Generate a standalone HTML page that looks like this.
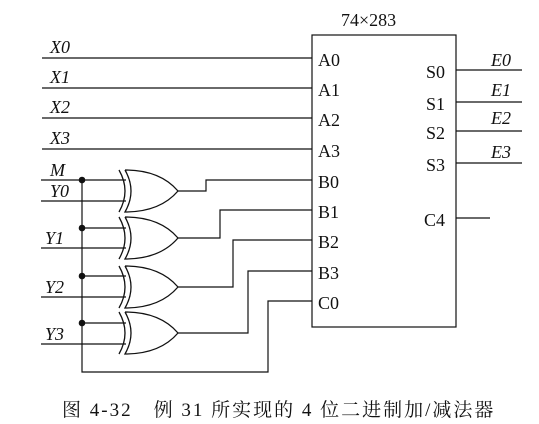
<!DOCTYPE html>
<html><head><meta charset="utf-8"><style>
body{margin:0;background:#fff;width:539px;height:424px;overflow:hidden}
svg{display:block}
text{font-family:"Liberation Serif","Noto Serif CJK SC",serif;fill:#111}
.i{font-style:italic}
</style></head><body>
<svg width="539" height="424" viewBox="0 0 539 424" xmlns="http://www.w3.org/2000/svg">
<defs>
<g id="xor" fill="none" stroke="#111" stroke-width="1.3">
<path d="M125,0 Q160,0 178,21 Q160,42 125,42 Q137,21 125,0"/>
<path d="M119,0 Q131,21 119,42"/>
</g>
</defs>
<g stroke="#111" stroke-width="1.2" fill="none">
<rect x="312" y="35" width="144" height="292"/>
<line x1="42" y1="58" x2="312" y2="58"/>
<line x1="42" y1="88" x2="312" y2="88"/>
<line x1="42" y1="118" x2="312" y2="118"/>
<line x1="42" y1="149" x2="312" y2="149"/>
<line x1="456" y1="70" x2="522" y2="70"/>
<line x1="456" y1="102" x2="522" y2="102"/>
<line x1="456" y1="131" x2="522" y2="131"/>
<line x1="456" y1="163" x2="522" y2="163"/>
<line x1="456" y1="218" x2="490" y2="218"/>
<line x1="41" y1="180" x2="126" y2="180"/>
<line x1="41" y1="201" x2="126" y2="201"/>
<line x1="82" y1="228" x2="126" y2="228"/>
<line x1="41" y1="248" x2="126" y2="248"/>
<line x1="82" y1="276" x2="126" y2="276"/>
<line x1="41" y1="297" x2="126" y2="297"/>
<line x1="82" y1="323" x2="126" y2="323"/>
<line x1="41" y1="344" x2="126" y2="344"/>
<polyline points="82,180 82,372 268,372 268,301 312,301"/>
<polyline points="178,191 206,191 206,180 312,180"/>
<polyline points="178,238 220,238 220,210 312,210"/>
<polyline points="178,287 233,287 233,240 312,240"/>
<polyline points="178,333 248,333 248,271 312,271"/>
</g>
<use href="#xor" y="170"/>
<use href="#xor" y="217"/>
<use href="#xor" y="266"/>
<use href="#xor" y="312"/>
<g fill="#111">
<circle cx="82" cy="180" r="3.3"/><circle cx="82" cy="228" r="3.3"/>
<circle cx="82" cy="276" r="3.3"/><circle cx="82" cy="323" r="3.3"/>
</g>
<g font-size="18">
<text x="341" y="26">74×283</text>
<text x="318" y="66">A0</text><text x="318" y="96">A1</text>
<text x="318" y="126">A2</text><text x="318" y="157">A3</text>
<text x="318" y="188">B0</text><text x="318" y="218">B1</text>
<text x="318" y="248">B2</text><text x="318" y="279">B3</text>
<text x="318" y="309">C0</text>
<text x="426" y="78">S0</text><text x="426" y="110">S1</text>
<text x="426" y="139">S2</text><text x="426" y="171">S3</text>
<text x="424" y="226">C4</text>
</g>
<g font-size="18">
<text class="i" x="50" y="53">X0</text><text class="i" x="50" y="83">X1</text>
<text class="i" x="50" y="113">X2</text><text class="i" x="50" y="144">X3</text>
<text class="i" x="50" y="176">M</text><text class="i" x="50" y="197">Y0</text>
<text class="i" x="45" y="244">Y1</text><text class="i" x="45" y="293">Y2</text>
<text class="i" x="45" y="340">Y3</text>
<text class="i" x="491" y="66">E0</text><text class="i" x="491" y="96">E1</text>
<text class="i" x="491" y="124">E2</text><text class="i" x="491" y="158">E3</text>
</g>
<text x="62" y="416" font-size="19" letter-spacing="2">图 4-32　例 31 所实现的 4 位二进制加/减法器</text>
</svg>
</body></html>
